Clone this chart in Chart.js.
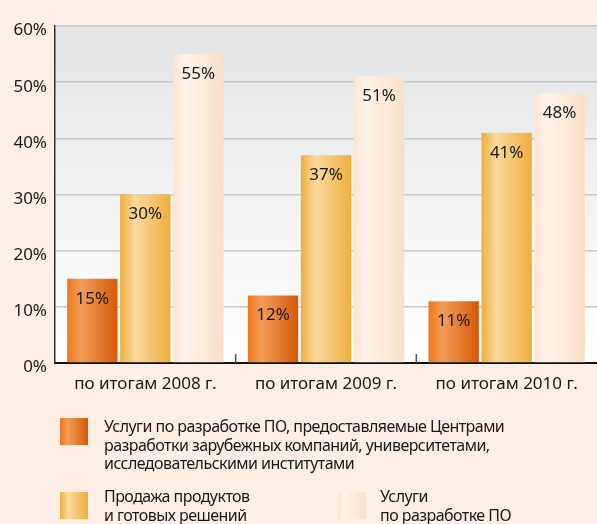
<!DOCTYPE html>
<html>
<head>
<meta charset="utf-8">
<script src="https://cdn.jsdelivr.net/npm/chart.js@4"></script>
<style>
  body { margin: 0; background: #fdefe6; font-family: "Noto Sans", sans-serif; }
  #wrap { position: relative; width: 597px; height: 524px; }
  .leg { position: absolute; font-size: 16px; letter-spacing: -0.55px; line-height: 18.5px; color: #1a1a1a; white-space: nowrap; }
  .sw { position: absolute; width: 28px; height: 27px; }
</style>
</head>
<body>
<div id="wrap">
  <canvas id="chart" width="597" height="524"></canvas>
  <div class="sw" id="sw0" style="left:60px;top:418px"></div>
  <div class="leg" id="lg0" style="left:104px;top:417px"></div>
  <div class="sw" id="sw1" style="left:60px;top:492px"></div>
  <div class="leg" id="lg1" style="left:104px;top:487px"></div>
  <div class="sw" id="sw2" style="left:338px;top:492px"></div>
  <div class="leg" id="lg2" style="left:380px;top:487px"></div>
</div>
<script>
const categories = ['по итогам 2008 г.', 'по итогам 2009 г.', 'по итогам 2010 г.'];
const seriesNames = [
    'Услуги по разработке ПО, предоставляемые Центрами\nразработки зарубежных компаний, университетами,\nисследовательскими институтами',
    'Продажа продуктов\nи готовых решений',
    'Услуги\nпо разработке ПО'
];
const centres = [15, 12, 11];
const products = [30, 37, 41];
const services = [55, 51, 48];
const yTicks = [0, 10, 20, 30, 40, 50, 60];

const CAT_PCT = 0.88, BAR_PCT = 0.95;

// стопи градієнтів зліва направо
const gradStops = [
    [[0, '#ee7818'], [0.28, '#f29d5a'], [1, '#d55806']],
    [[0, '#eeae3e'], [0.3, '#fad99d'], [1, '#eeae3c']],
    [[0, '#fbe4d0'], [0.22, '#fff4ea'], [1, '#f9dfc8']]
];

seriesNames.forEach((n, i) => {
    document.getElementById('lg' + i).innerHTML = n.split('\n').join('<br>');
    document.getElementById('sw' + i).style.background =
        'linear-gradient(to right, ' + gradStops[i].map(s => s[1] + ' ' + (s[0] * 100) + '%').join(', ') + ')';
});

// градієнт для кожного стовпчика рахуємо від шкали x
function barGradient(c) {
    const chart = c.chart;
    const xs = chart.scales.x;
    const i = c.datasetIndex;
    if (!xs || !chart.chartArea || c.dataIndex === undefined) return gradStops[i][0][1];
    const cw = xs.width / categories.length;
    const group = cw * CAT_PCT;
    const slot = group / chart.data.datasets.length;
    const cx = xs.getPixelForValue(c.dataIndex) - group / 2 + slot * (i + 0.5);
    const w = slot * BAR_PCT;
    const g = chart.ctx.createLinearGradient(cx - w / 2, 0, cx + w / 2, 0);
    gradStops[i].forEach(s => g.addColorStop(s[0], s[1]));
    return g;
}

const plotBg = {
    id: 'plotBg',
    beforeDraw(chart) {
        const {ctx, chartArea: a} = chart;
        const g = ctx.createLinearGradient(0, a.top, 0, a.bottom);
        g.addColorStop(0, '#e3e4e6');
        g.addColorStop(1, '#ffffff');
        ctx.save();
        ctx.fillStyle = g;
        ctx.fillRect(a.left, a.top, a.right - a.left, a.bottom - a.top);
        ctx.restore();
    },
    afterDatasetsDraw(chart) {
        const {ctx, chartArea: a} = chart;
        ctx.save();
        ctx.font = '17px "Noto Sans"';
        ctx.fillStyle = '#1a1a1a';
        ctx.textAlign = 'center';
        ctx.textBaseline = 'middle';
        chart.data.datasets.forEach((ds, i) => {
            chart.getDatasetMeta(i).data.forEach((bar, j) => {
                ctx.fillText(ds.data[j] + '%', bar.x, bar.y + 20);
            });
        });
        // маленькі засічки між групами
        const xs = chart.scales.x;
        ctx.strokeStyle = '#555';
        ctx.lineWidth = 1.5;
        for (let k = 1; k < categories.length; k++) {
            const px = (xs.getPixelForValue(k - 1) + xs.getPixelForValue(k)) / 2;
            ctx.beginPath();
            ctx.moveTo(px, a.bottom);
            ctx.lineTo(px, a.bottom - 9);
            ctx.stroke();
        }
        ctx.restore();
    }
};

new Chart(document.getElementById('chart'), {
    type: 'bar',
    data: {
        labels: categories,
        datasets: [
            {label: seriesNames[0], data: centres, backgroundColor: barGradient},
            {label: seriesNames[1], data: products, backgroundColor: barGradient},
            {label: seriesNames[2], data: services, backgroundColor: barGradient}
        ]
    },
    options: {
        responsive: false,
        animation: false,
        layout: {padding: {top: 26, right: 0, left: 0, bottom: 0}},
        datasets: {bar: {categoryPercentage: CAT_PCT, barPercentage: BAR_PCT}},
        plugins: {legend: {display: false}, tooltip: {enabled: false}, colors: {enabled: false}},
        scales: {
            x: {
                grid: {display: false},
                border: {color: '#111', width: 2},
                ticks: {color: '#1a1a1a', font: {family: 'Noto Sans', size: 17}, padding: 3},
                afterFit(s) { s.height = 161; }
            },
            y: {
                min: 0, max: 60,
                afterBuildTicks(s) { s.ticks = yTicks.map(v => ({value: v})); },
                grid: {color: '#c9cacc', lineWidth: 1.5, drawTicks: false},
                border: {color: '#333', width: 1.5},
                ticks: {color: '#1a1a1a', font: {family: 'Noto Sans', size: 17}, padding: 8, labelOffset: 4.5,
                    callback: v => v + '%'},
                afterFit(s) { s.width = 55; }
            }
        }
    },
    plugins: [plotBg]
});
</script>
</body>
</html>
